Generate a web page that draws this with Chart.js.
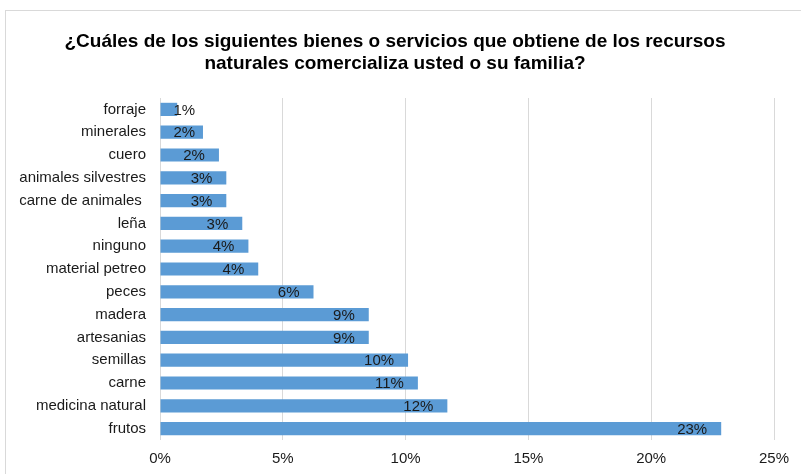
<!DOCTYPE html>
<html>
<head>
<meta charset="utf-8">
<script src="https://cdn.jsdelivr.net/npm/chart.js@4"></script>
<style>
  body { margin: 0; background: #fff; }
  #wrap { width: 801px; height: 474px; position: relative; }
</style>
</head>
<body>
<div id="wrap"><canvas id="recursos"></canvas></div>
<script>
var categories = ["forraje", "minerales", "cuero", "animales silvestres", "carne de animales ",
    "leña", "ninguno", "material petreo", "peces", "madera", "artesanias", "semillas",
    "carne", "medicina natural", "frutos"];
var percentages = [0.7, 1.75, 2.4, 2.7, 2.7, 3.35, 3.6, 4.0, 6.25, 8.5, 8.5, 10.1, 10.5, 11.7, 22.85];
var shownLabels = ["1%", "2%", "2%", "3%", "3%", "3%", "4%", "4%", "6%", "9%", "9%", "10%", "11%", "12%", "23%"];
var xTicks = [0, 5, 10, 15, 20, 25];
var titleLines = ['¿Cuáles de los siguientes bienes o servicios que obtiene de los recursos',
                  'naturales comercializa usted o su familia?'];

// border round the chart like the excel frame, plus the title
var frame = {
    id: 'frame',
    beforeDraw: function (chart) {
        var ctx = chart.ctx;
        ctx.save();
        ctx.strokeStyle = '#d9d9d9';
        ctx.lineWidth = 1;
        ctx.strokeRect(5.5, 10.5, 820, 480);
        ctx.font = 'bold 19px "Liberation Sans", Arial, sans-serif';
        ctx.fillStyle = '#000';
        ctx.textAlign = 'center';
        ctx.textBaseline = 'middle';
        ctx.fillText(titleLines[0], 395, 42);
        ctx.fillText(titleLines[1], 395, 64);
        ctx.restore();
    }
};

// labels at the inside end of each bar
var barLabels = {
    id: 'barLabels',
    afterDatasetsDraw: function (chart) {
        var ctx = chart.ctx;
        var meta = chart.getDatasetMeta(0);
        ctx.save();
        ctx.font = '15px "Liberation Sans", Arial, sans-serif';
        ctx.fillStyle = '#1a1a1a';
        ctx.textAlign = 'right';
        ctx.textBaseline = 'middle';
        meta.data.forEach(function (bar, i) {
            var txt = shownLabels[i];
            var w = ctx.measureText(txt).width;
            var right = Math.max(bar.x - 14, bar.base + 13 + w);
            ctx.fillText(txt, right, bar.y + 1);
        });
        ctx.restore();
    }
};

var chart = new Chart(document.getElementById('recursos').getContext('2d'), {
    type: 'bar',
    data: {
        labels: categories,
        datasets: [{
            data: percentages,
            backgroundColor: '#5b9bd5',
            borderWidth: 0,
            barPercentage: 1,
            categoryPercentage: 0.58
        }]
    },
    options: {
        indexAxis: 'y',
        responsive: true,
        maintainAspectRatio: false,
        animation: false,
        layout: { padding: { top: 98, right: 27, bottom: 0, left: 0 } },
        plugins: {
            legend: { display: false },
            tooltip: { enabled: false },
            title: { display: false }
        },
        scales: {
            x: {
                min: 0,
                max: 25,
                afterBuildTicks: function (scale) {
                    scale.ticks = xTicks.map(function (v) { return { value: v }; });
                },
                afterFit: function (scale) { scale.height = 34; },
                ticks: {
                    callback: function (v) { return v + '%'; },
                    color: '#1a1a1a',
                    font: { family: '"Liberation Sans", Arial, sans-serif', size: 15 },
                    padding: 10
                },
                grid: { color: '#d9d9d9', drawTicks: false },
                border: { display: false }
            },
            y: {
                afterFit: function (scale) { scale.width = 160; },
                ticks: {
                    color: '#1a1a1a',
                    font: { family: '"Liberation Sans", Arial, sans-serif', size: 15 },
                    padding: 14
                },
                grid: { display: false, drawTicks: false },
                border: { display: false }
            }
        }
    },
    plugins: [frame, barLabels]
});
</script>
</body>
</html>
